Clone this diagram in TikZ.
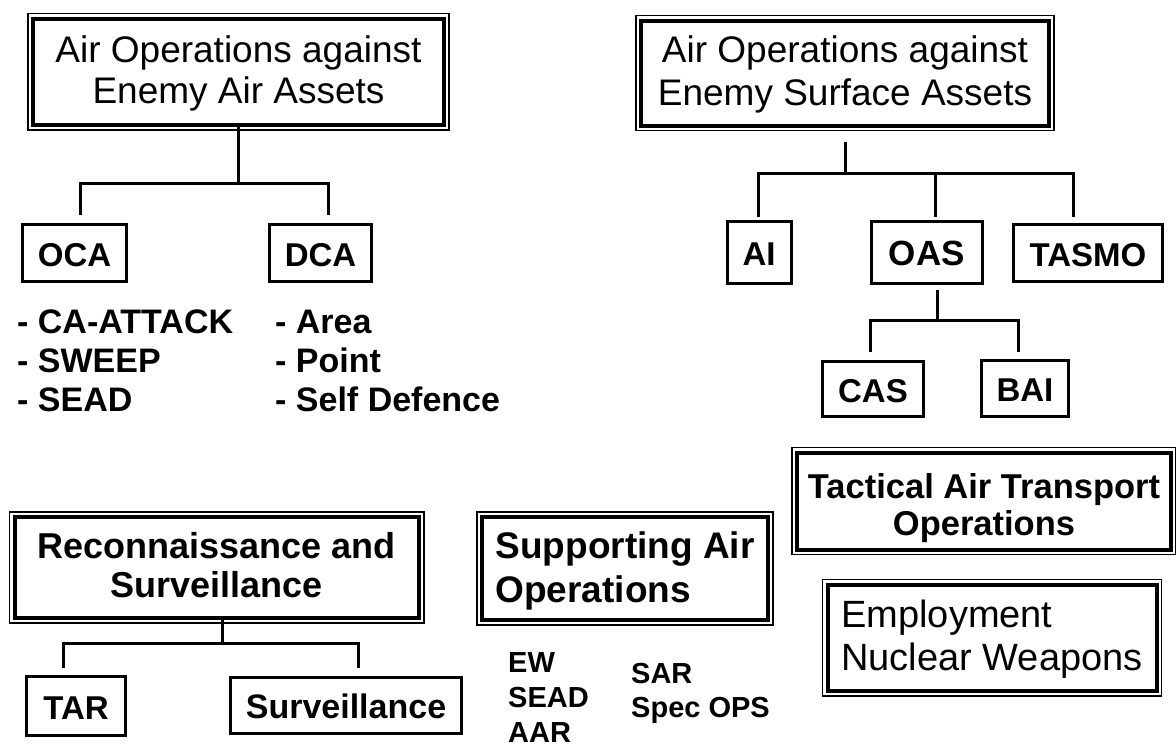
\documentclass[tikz,border=0pt]{standalone}
\usepackage{fontspec}
\setmainfont{Liberation Sans}
\newcommand{\centerlines}[1]{\vtop{\halign{\hfil##\hfil\cr#1\crcr}}}
\newcommand{\leftlines}[1]{\vtop{\halign{##\hfil\cr#1\crcr}}}
\begin{document}
\begin{tikzpicture}[x=1pt,y=-1pt,
  bigbox/.style={draw, line width=4pt, inner sep=0pt, text height=0pt},
  smallbox/.style={draw, line width=3pt, inner sep=0pt, text height=26pt, text depth=0pt,
    font=\bfseries\fontsize{33}{40}\selectfont},
  conn/.style={line width=3pt},
  listtext/.style={anchor=west, inner sep=0pt, text height=0pt, text depth=0pt},
  frame/.style={line width=1.2pt}]
\fill[white] (0,0) rectangle (1176,745);
\useasboundingbox (0,0) rectangle (1176,745);

% ---------- big boxes ----------
\node[bigbox, minimum width=411pt, minimum height=106.3pt, text depth=19.7pt,
  font=\fontsize{37}{41}\selectfont] (b1) at (238.5,71.85)
  {\centerlines{Air Operations against\cr Enemy Air Assets}};
\node[bigbox, minimum width=408pt, minimum height=105pt, text depth=22pt,
  font=\fontsize{37}{43}\selectfont] (b2) at (845,73)
  {\centerlines{Air Operations against\cr Enemy Surface Assets}};
\node[bigbox, minimum width=404.3pt, minimum height=101pt, text depth=19pt,
  font=\bfseries\fontsize{36}{39}\selectfont] (rs) at (216.85,567.5)
  {\centerlines{Reconnaissance and\cr Surveillance}};
\node[bigbox, minimum width=286pt, minimum height=103pt, text depth=21pt,
  font=\bfseries\fontsize{37}{44}\selectfont] (sa) at (625,568.5)
  {\leftlines{Supporting Air\cr Operations}};
\node[bigbox, minimum width=374pt, minimum height=97pt, text depth=6pt,
  font=\bfseries\fontsize{34.5}{37}\selectfont] (ta) at (984,501)
  {\centerlines{Tactical Air Transport\cr Operations}};
\node[bigbox, minimum width=329pt, minimum height=106.5pt, text depth=21.5pt,
  font=\fontsize{38}{43}\selectfont] (en) at (992,637.75)
  {\leftlines{Employment\cr Nuclear Weapons}};

\foreach \n in {b1,b2,rs,sa,ta,en}
  \draw[frame] ([shift={(-3,-3)}]\n.north west) rectangle ([shift={(3,3)}]\n.south east);

% ---------- small boxes ----------
\node[smallbox, minimum width=104pt, minimum height=57pt] (oca) at (74.5,253) {OCA};
\node[smallbox, minimum width=102pt, minimum height=57pt] (dca) at (320.5,253) {DCA};
\node[smallbox, minimum width=64pt, minimum height=62pt] (ai) at (759,252.5) {AI};
\node[smallbox, minimum width=111.5pt, minimum height=62pt, font=\bfseries\fontsize{35}{40}\selectfont] (oas) at (926.75,252.5) {OAS};
\node[smallbox, minimum width=149.5pt, minimum height=57pt] (tasmo) at (1088,253) {TASMO};
\node[smallbox, minimum width=101pt, minimum height=55pt] (cas) at (873,389) {CAS};
\node[smallbox, minimum width=87pt, minimum height=56pt] (bai) at (1025,388.5) {BAI};
\node[smallbox, minimum width=99pt, minimum height=59pt] (tar) at (76,706) {TAR};
\node[smallbox, minimum width=231pt, minimum height=56pt, font=\bfseries\fontsize{34}{40}\selectfont] (surv) at (346,705.5) {Surveillance};

% ---------- lists ----------
\node[listtext, font=\bfseries\fontsize{34}{39}\selectfont] (ocal) at (17,333)
  {\leftlines{- CA-ATTACK\cr - SWEEP\cr - SEAD}};
\node[listtext, font=\bfseries\fontsize{34}{39}\selectfont] (dcal) at (275,333)
  {\leftlines{- Area\cr - Point\cr - Self Defence}};
\node[listtext, font=\bfseries\fontsize{29}{35}\selectfont] (sal1) at (508,672)
  {\leftlines{EW\cr SEAD\cr AAR}};
\node[listtext, font=\bfseries\fontsize{29}{34}\selectfont] (sal2) at (631,683)
  {\leftlines{SAR\cr Spec OPS}};

% ---------- connectors ----------
\coordinate (b1j) at (238,183);
\coordinate (b1l) at (80,183);
\coordinate (b1r) at (328,183);
\coordinate (ocat) at (80,215);
\coordinate (dcat) at (328,215);
\draw[conn] (b1.south -| b1j) -- (b1j);
\draw[conn] (ocat) -- (b1l) -- (b1r) -- (dcat);

\coordinate (b2t) at (845,142);
\coordinate (b2j) at (845,173);
\coordinate (b2l) at (758.6,173);
\coordinate (b2m) at (935.5,173);
\coordinate (b2r) at (1073,173);
\coordinate (ait) at (758.6,217);
\coordinate (oast) at (935.5,217);
\coordinate (tat) at (1073,217);
\draw[conn] (b2t) -- (b2j);
\draw[conn] (ait) -- (b2l) -- (b2r) -- (tat);
\draw[conn] (b2m) -- (oast);

\coordinate (oasb) at (937,290);
\coordinate (oasj) at (937,320);
\coordinate (oasl) at (870,320);
\coordinate (oasr) at (1018,320);
\coordinate (cast) at (870,352);
\coordinate (bait) at (1018,352);
\draw[conn] (oasb) -- (oasj);
\draw[conn] (cast) -- (oasl) -- (oasr) -- (bait);

\coordinate (rsj) at (222,643);
\coordinate (rsl) at (63,643);
\coordinate (rsr) at (358,643);
\coordinate (tart) at (63,668);
\coordinate (svt) at (358,668);
\draw[conn] (rs.south -| rsj) -- (rsj);
\draw[conn] (tart) -- (rsl) -- (rsr) -- (svt);
\end{tikzpicture}
\end{document}
